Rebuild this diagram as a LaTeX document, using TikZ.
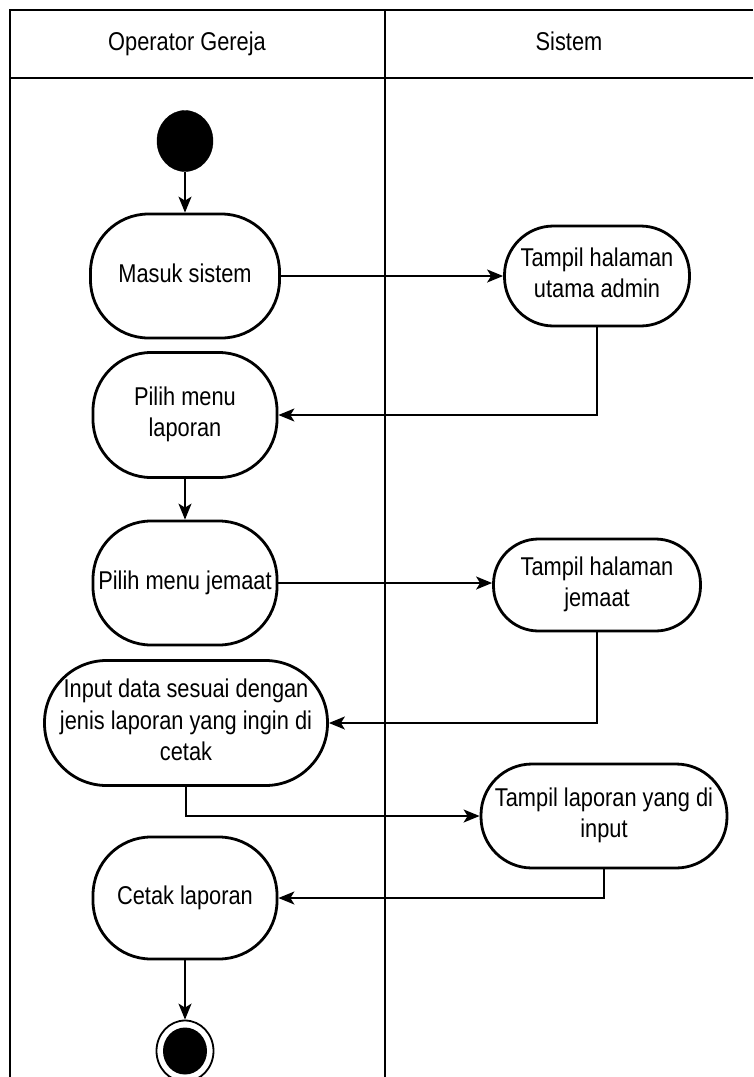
\documentclass[tikz,border=0pt]{standalone}
\usepackage{fontspec}
\usepackage{graphicx}
\setmainfont{Liberation Sans}
\usetikzlibrary{arrows.meta,shapes.geometric}
\newcommand{\vs}[1]{\scalebox{1}[1.18]{\begin{tabular}{@{}c@{}}#1\end{tabular}}}
\tikzset{
  act/.style={draw=black, line width=2.8pt, rectangle, rounded corners=58pt, inner sep=0pt, align=center, text=black},
  lane/.style={draw=black, line width=1.6pt},
  conn/.style={draw=black, line width=1.7pt, -{Stealth[length=16pt,width=13pt,inset=4pt]}},
  lbl/.style={inner sep=0pt, text=black},
}
\begin{document}
\begin{tikzpicture}[x=1pt,y=-1pt, every node/.style={font=\fontsize{21.8}{26.5}\selectfont}]
\useasboundingbox (0,0) rectangle (753,1077);
% swimlanes
\coordinate (tl) at (10,10);
\coordinate (tr) at (753,10);
\coordinate (bl) at (10,1077);
\coordinate (mt) at (385,10);
\coordinate (mb) at (385,1077);
\coordinate (hl) at (10,78);
\coordinate (hr) at (753,78);
\draw[lane] (tr) -- (tl) -- (bl);
\draw[lane] (mt) -- (mb);
\draw[lane] (hl) -- (hr);
\node[lbl] (h1) at (187,44) {\vs{Operator Gereja}};
\node[lbl] (h2) at (569,44) {\vs{Sistem}};
% nodes
\node[ellipse, fill=black, draw=black, minimum width=56pt, minimum height=61pt, inner sep=0pt] (start) at (185,141) {};
\node[act, minimum width=189pt, minimum height=124pt] (masuk) at (185,276) {\vs{Masuk sistem}};
\node[act, minimum width=185pt, minimum height=100pt, rounded corners=49pt] (t1) at (597,276) {\vs{Tampil halaman\\utama admin}};
\node[act, minimum width=184pt, minimum height=125pt] (lap) at (185,415) {\vs{Pilih menu\\laporan}};
\node[act, minimum width=184pt, minimum height=124pt] (jem) at (185,583) {\vs{Pilih menu jemaat}};
\node[act, minimum width=207pt, minimum height=92pt, rounded corners=45pt] (t2) at (597,585) {\vs{Tampil halaman\\jemaat}};
\node[act, minimum width=283pt, minimum height=125pt, rounded corners=62pt] (inp) at (186,723) {\vs{Input data sesuai dengan\\jenis laporan yang ingin di\\cetak}};
\node[act, minimum width=246pt, minimum height=104pt, rounded corners=51pt] (t3) at (604,816) {\vs{Tampil laporan yang di\\input}};
\node[act, minimum width=184pt, minimum height=122pt] (cet) at (185,898) {\vs{Cetak laporan}};
\node[ellipse, draw=black, line width=1.8pt, minimum width=57pt, minimum height=61pt, inner sep=0pt] (end) at (185,1051) {};
\node[ellipse, fill=black, minimum width=44pt, minimum height=47pt, inner sep=0pt] (endin) at (185,1051) {};
% connectors
\draw[conn] (start) -- (masuk);
\draw[conn] (masuk.east) -- (t1.west);
\draw[conn] (t1.south) |- (lap.east);
\draw[conn] (lap) -- (jem);
\draw[conn] (jem.east) -- (t2.west |- jem.east);
\draw[conn] (t2.south) |- (inp.east);
\draw[conn] (inp.south) |- (t3.west);
\draw[conn] (t3.south) |- (cet.east);
\draw[conn] (cet) -- (end);
\end{tikzpicture}
\end{document}
